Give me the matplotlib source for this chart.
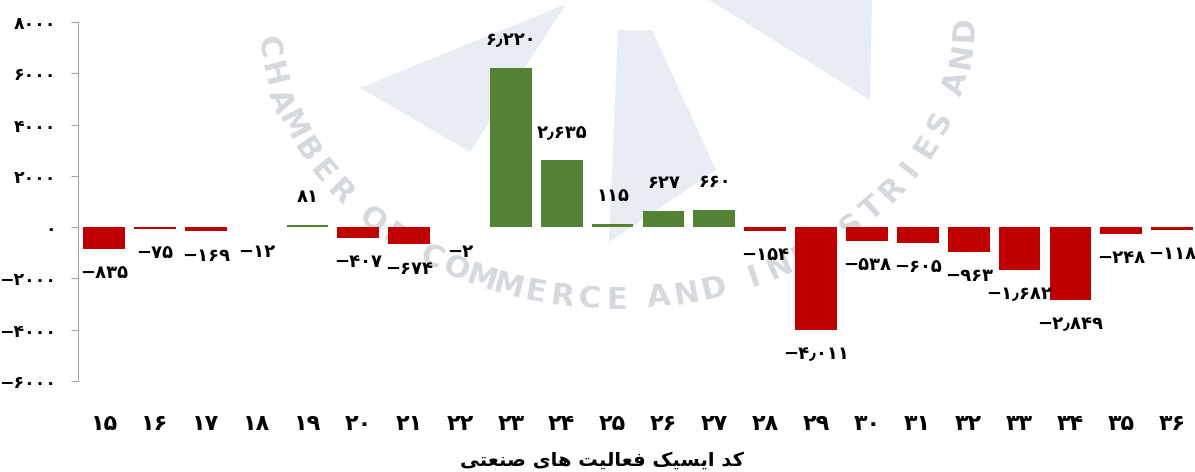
import math
import matplotlib
matplotlib.use("Agg")
from matplotlib import pyplot as plt
from matplotlib.patches import Polygon

# data
codes = [15, 16, 17, 18, 19, 20, 21, 22, 23, 24, 25, 26, 27, 28, 29, 30, 31, 32, 33, 34, 35, 36]
values = [-835, -75, -169, -12, 81, -407, -674, -2, 6220, 2635, 115, 627, 660,
          -154, -4011, -538, -605, -963, -1682, -2849, -248, -118]
yticks = [-6000, -4000, -2000, 0, 2000, 4000, 6000, 8000]

FA = str.maketrans("0123456789", "۰۱۲۳۴۵۶۷۸۹")

def fa_num(v, sep=True):
    s = "{:,}".format(abs(v)) if sep else str(abs(v))
    s = s.replace(",", "٫").translate(FA)
    return ("−" + s) if v < 0 else s

# x-axis title, shaped by hand (presentation forms), then reversed for RTL
title_logical = (
    "\uFB90\uFEAA" + " " +                              # کد
    "\uFE8D\uFBFE\uFEB4\uFBFF\uFB8F" + " " +            # ایسیک
    "\uFED3\uFECC\uFE8E\uFEDF\uFBFF\uFE96" + " " +      # فعالیت
    "\uFEEB\uFE8E\uFBFC" + " " +                        # های
    "\uFEBB\uFEE8\uFECC\uFE98\uFBFD"                    # صنعتی
)
xtitle = title_logical[::-1]

plt.rcParams['font.family'] = ['DejaVu Sans']

W, H = 1195, 472
fig = plt.figure(figsize=(W / 100, H / 100), dpi=100)

def px(x, y):
    # pixel (y down) -> figure fraction
    return (x / W, 1 - y / H)

# faint watermark (logo shapes + arc text) behind the chart
for shape in [[(360, 88), (566, 4), (470, 152)],
              [(618, 30), (652, 30), (716, 170), (609, 242)],
              [(709, 0), (872, 0), (870, 100)]]:
    fig.patches.append(Polygon([px(*p) for p in shape], closed=True,
                               transform=fig.transFigure, facecolor='#E8EDF3',
                               edgecolor='none', zorder=-10))

wm = "CHAMBER OF COMMERCE AND INDUSTRIES AND"
cx, cy, ea, eb = 615, 18, 350, 282
ts = [math.radians(200 - k * 0.05) for k in range(4400)]
pts = [(cx + ea * math.cos(t), cy + eb * math.sin(t)) for t in ts]
arc = [0.0]
for k in range(1, len(pts)):
    arc.append(arc[-1] + math.dist(pts[k], pts[k - 1]))
k0 = min(range(len(ts)), key=lambda k: abs(ts[k] - math.radians(174)))
s = arc[k0]
for ch in wm:
    step = 15 if ch == " " else 27.5
    if ch != " ":
        k = min(range(len(arc)), key=lambda j: abs(arc[j] - s))
        t = ts[k]
        ang = math.degrees(math.atan2(eb * math.cos(t), ea * math.sin(t)))
        fig.text(*px(*pts[k]), ch, ha='center', va='center', rotation=ang,
                 rotation_mode='anchor', fontsize=22, fontweight='bold',
                 color='#D5D9DE', zorder=-5)
    s += step

ax = fig.add_axes([0.0653, 0.193, 0.9347, 0.760])
ax.patch.set_visible(False)

colors = ['#548235' if v > 0 else '#C00000' for v in values]
x = list(range(len(codes)))
ax.bar(x, values, width=0.82, color=colors)

for xi, v in zip(x, values):
    if v >= 0:
        ax.annotate(fa_num(v), (xi, v), xytext=(0, 20), textcoords='offset points',
                    ha='center', va='center', fontsize=13, fontweight='bold')
    else:
        ax.annotate(fa_num(v), (xi, v), xytext=(0, -17.5), textcoords='offset points',
                    ha='center', va='center', fontsize=13, fontweight='bold')

ax.set_xlim(-0.51, 21.45)
ax.set_ylim(-6000, 8000)
ax.set_yticks(yticks)
ax.set_yticklabels([fa_num(t, sep=False) for t in yticks], fontsize=12.5, fontweight='bold')
ax.set_xticks(x)
ax.set_xticklabels([fa_num(c, sep=False) for c in codes], fontsize=16, fontweight='bold')
ax.tick_params(axis='x', length=0, pad=24)
ax.tick_params(axis='y', length=5, color='#A6A6A6', pad=11)

for sp in ['top', 'right', 'bottom']:
    ax.spines[sp].set_visible(False)
ax.spines['left'].set_color('#A6A6A6')

fig.text(0.504, 0.024, xtitle, ha='center', va='center', fontsize=14, fontweight='bold')

fig.savefig("out.png", dpi=100)
